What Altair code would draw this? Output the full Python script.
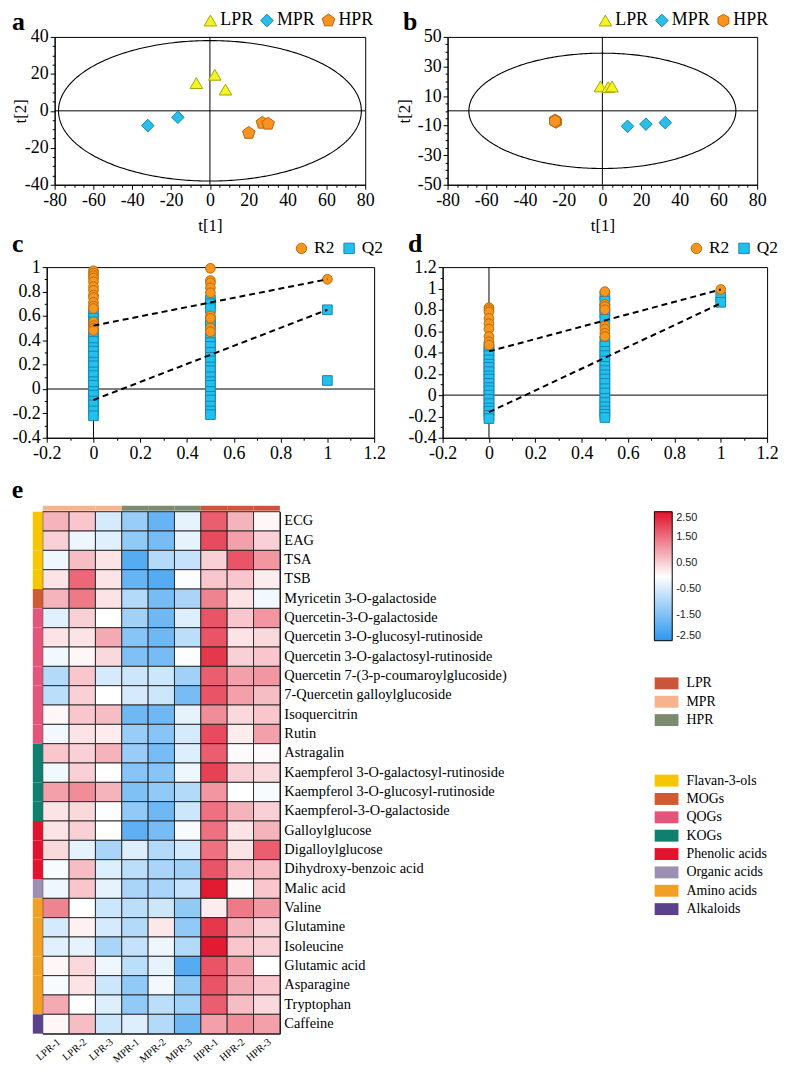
import altair as alt
import numpy as np
import pandas as pd

SERIF = "Liberation Serif"
SANS = "Liberation Sans"

# ---------------- PCA score plots (a, b) ----------------
GROUPS = ["LPR", "MPR", "HPR"]
PCA_FILL = ["#f3f329", "#29bfe9", "#f7931e"]
PCA_STROKE = ["#a6a600", "#1583ae", "#b9650c"]
X_TICKS_PCA = list(range(-80, 81, 5))
X_MAJOR_PCA = "datum.value % 20 == 0"

A_LPR_X = [-7.0, 2.5, 8.0]
A_LPR_Y = [15.0, 19.5, 11.5]
A_MPR_X = [-32.0, -16.5]
A_MPR_Y = [-8.0, -3.5]
A_HPR_X = [20.0, 27.0, 30.0]
A_HPR_Y = [-12.0, -6.5, -7.0]
A_ELLIPSE_RADII = [78, 38]
A_Y_DOMAIN = [-40, 40]
A_Y_TICKS = list(range(-40, 41, 5))
A_Y_MAJOR = "datum.value % 20 == 0"

B_LPR_X = [-1.0, 3.0, 5.0]
B_LPR_Y = [16.5, 16.0, 16.5]
B_MPR_X = [13.0, 22.5, 32.5]
B_MPR_Y = [-10.5, -9.0, -8.0]
B_HPR_X = [-24.5, -24.0, -24.5]
B_HPR_Y = [-6.5, -7.5, -7.0]
B_ELLIPSE_RADII = [69, 39]
B_Y_DOMAIN = [-50, 50]
B_Y_TICKS = list(range(-50, 51, 5))
B_Y_MAJOR = "(datum.value + 50) % 20 == 0"

PENTAGON = "M0,-1.05L1,-0.32L0.62,0.85L-0.62,0.85L-1,-0.32Z"
HEXAGON = "M0,-1L0.87,-0.5L0.87,0.5L0,1L-0.87,0.5L-0.87,-0.5Z"

# ---------------- permutation tests (c, d) ----------------
PERM_SERIES = ["R2", "Q2"]
PERM_FILL = ["#f7961f", "#22c0ec"]
PERM_STROKE = ["#b86a08", "#1688b0"]
PERM_X = [0.0, 0.5, 1.0]
PERM_X_DOMAIN = [-0.2, 1.2]
PERM_X_TICKS = [-0.2, -0.1, 0, 0.1, 0.2, 0.3, 0.4, 0.5, 0.6, 0.7, 0.8, 0.9, 1, 1.1, 1.2]
PERM_MAJOR = "round(datum.value * 10) % 2 == 0"

C_R2_AT_0 = [0.97, 0.95, 0.93, 0.91, 0.88, 0.84, 0.81, 0.77, 0.75, 0.71, 0.68, 0.66, 0.55, 0.52, 0.50, 0.48]
C_R2_AT_05 = [0.99, 0.89, 0.87, 0.83, 0.79, 0.60, 0.58, 0.50, 0.47]
C_R2_AT_1 = [0.90]
C_Q2_AT_0 = [0.62, 0.58, 0.55, 0.45, 0.42, 0.39, 0.34, 0.31, 0.27, 0.22, 0.19, 0.14, 0.11, 0.06, 0.03,
             -0.02, -0.05, -0.10, -0.13, -0.18, -0.22]
C_Q2_AT_05 = [0.73, 0.70, 0.66, 0.55, 0.52, 0.43, 0.38, 0.35, 0.30, 0.26, 0.23, 0.18, 0.15, 0.10, 0.06,
              0.03, -0.02, -0.06, -0.09, -0.14, -0.18, -0.21]
C_Q2_AT_1 = [0.65, 0.07]
C_R2_LINE = [0.52, 0.90]
C_Q2_LINE = [-0.09, 0.65]
C_Y_DOMAIN = [-0.4, 1.0]
C_Y_TICKS = [-0.4, -0.3, -0.2, -0.1, 0, 0.1, 0.2, 0.3, 0.4, 0.5, 0.6, 0.7, 0.8, 0.9, 1]

D_R2_AT_0 = [0.82, 0.80, 0.78, 0.72, 0.67, 0.62, 0.55, 0.50, 0.47]
D_R2_AT_05 = [0.97, 0.85, 0.83, 0.80, 0.65, 0.62, 0.58, 0.55]
D_R2_AT_1 = [0.99]
D_Q2_AT_0 = [0.45, 0.41, 0.37, 0.33, 0.29, 0.26, 0.22, 0.18, 0.15, 0.11, 0.07, 0.04, 0.0, -0.04, -0.08,
             -0.12, -0.15, -0.19, -0.22]
D_Q2_AT_05 = [0.93, 0.88, 0.81, 0.77, 0.71, 0.51, 0.46, 0.41, 0.37, 0.32, 0.27, 0.23, 0.19, 0.15, 0.11,
              0.06, 0.02, -0.03, -0.07, -0.11, -0.15, -0.18, -0.21]
D_Q2_AT_1 = [0.92, 0.87]
D_R2_LINE = [0.41, 0.99]
D_Q2_LINE = [-0.16, 0.86]
D_Y_DOMAIN = [-0.4, 1.2]
D_Y_TICKS = [-0.4, -0.3, -0.2, -0.1, 0, 0.1, 0.2, 0.3, 0.4, 0.5, 0.6, 0.7, 0.8, 0.9, 1, 1.1, 1.2]

# ---------------- heatmap (e) ----------------
SAMPLES = ["LPR-1", "LPR-2", "LPR-3", "MPR-1", "MPR-2", "MPR-3", "HPR-1", "HPR-2", "HPR-3"]
SAMPLE_GROUP = ["LPR", "LPR", "LPR", "MPR", "MPR", "MPR", "HPR", "HPR", "HPR"]
BAR_GROUP_COLORS = ["#f6b48e", "#7c8a70", "#c9553a"]
LEGEND_GROUP_COLORS = ["#c9553a", "#f6b48e", "#7c8a70"]

COMPOUNDS = [
    "ECG", "EAG", "TSA", "TSB", "Myricetin 3-O-galactoside", "Quercetin-3-O-galactoside",
    "Quercetin 3-O-glucosyl-rutinoside", "Quercetin 3-O-galactosyl-rutinoside",
    "Quercetin 7-(3-p-coumaroylglucoside)", "7-Quercetin galloylglucoside", "Isoquercitrin", "Rutin",
    "Astragalin", "Kaempferol 3-O-galactosyl-rutinoside", "Kaempferol 3-O-glucosyl-rutinoside",
    "Kaempferol-3-O-galactoside", "Galloylglucose", "Digalloylglucose", "Dihydroxy-benzoic acid",
    "Malic acid", "Valine", "Glutamine", "Isoleucine", "Glutamic acid", "Asparagine", "Tryptophan",
    "Caffeine",
]
HEAT_VALUES = [
    [0.8, 0.6, -0.5, -1.2, -1.8, -0.3, 1.7, 0.8, 0.1],
    [0.5, -0.2, -0.35, -1.3, -1.6, -0.3, 1.9, 1.0, 0.5],
    [-0.2, 0.7, 0.3, -2.0, -0.9, -0.7, 0.5, 1.8, 1.1],
    [0.3, 1.6, 0.3, -1.8, -2.0, -0.05, 0.6, 0.6, 0.2],
    [0.8, 1.4, 0.3, -0.9, -1.6, -1.0, 1.3, 0.3, -0.15],
    [-0.35, 0.5, 0.0, -1.1, -1.7, -0.4, 1.8, 0.6, 1.1],
    [0.3, 0.3, 0.9, -1.4, -1.7, -0.8, 1.8, 0.3, 0.4],
    [-0.15, 0.1, 0.4, -1.5, -1.6, -0.05, 2.1, 0.5, 0.6],
    [-0.9, 0.6, -0.5, -0.6, -0.6, -1.1, 1.7, 1.0, 1.1],
    [-0.8, 0.5, 0.0, -0.5, -0.6, -1.6, 1.8, 1.0, 0.7],
    [0.1, 0.6, 0.7, -1.7, -1.7, -0.3, 1.2, 0.4, 0.6],
    [-0.15, 0.3, 0.2, -1.2, -1.4, -0.5, 1.9, 0.2, 1.0],
    [0.6, 0.5, 0.8, -1.2, -1.6, -0.4, 1.7, 0.05, 0.05],
    [-0.15, 0.5, 0.0, -1.4, -1.4, -0.2, 2.0, 0.5, 0.4],
    [1.0, 1.2, 0.8, -1.5, -1.3, -0.9, 1.1, 0.0, -0.1],
    [0.3, 0.4, -0.05, -1.3, -1.7, -0.6, 1.5, 0.8, 0.5],
    [0.3, 0.5, 0.0, -1.9, -1.6, -0.1, 1.5, 0.3, 0.8],
    [0.4, -0.3, -1.0, -0.4, -0.9, -0.5, 1.5, 0.3, 1.7],
    [-0.1, 0.7, -0.4, -0.8, -1.0, -1.1, 1.8, 0.7, 0.7],
    [-0.2, 0.6, -0.3, -1.0, -1.0, -0.7, 2.4, 0.05, 0.6],
    [1.3, 0.0, -0.6, -0.8, -0.6, -1.3, 0.2, 1.4, 1.1],
    [-0.5, 0.15, -0.5, -0.9, 0.25, -1.3, 2.1, 0.8, 0.5],
    [-0.35, -0.3, -1.0, -0.7, -0.2, -0.9, 2.4, 0.6, 0.5],
    [0.1, 0.4, -0.2, -0.8, -0.3, -2.0, 1.8, 1.0, 0.0],
    [-0.1, 0.3, -0.6, -1.3, -0.15, -1.3, 1.8, 0.9, 0.6],
    [0.9, 0.0, -0.4, -1.3, -0.8, -1.1, 1.7, 0.7, 0.4],
    [0.1, 0.7, -0.6, -0.4, -0.9, -1.7, 1.0, 1.2, 1.0],
]
CAT_NAMES = ["Flavan-3-ols", "MOGs", "QOGs", "KOGs", "Phenolic acids", "Organic acids", "Amino acids", "Alkaloids"]
CAT_COUNTS = [4, 1, 7, 4, 3, 1, 6, 1]
CAT_COLORS = ["#f7c600", "#cf5b35", "#e4557c", "#0f7f70", "#e2132c", "#9b90b2", "#f2a024", "#5b418c"]
HEAT_DOMAIN = [-2.5, 0, 2.5]
HEAT_RANGE = ["#2b97ef", "#ffffff", "#e1122b"]
HEAT_LEGEND_VALUES = [2.5, 1.5, 0.5, -0.5, -1.5, -2.5]

RECT_SYMBOL = "M-2,-1H2V1H-2Z"


def num_expr(fmt, major="true"):
    return (f"({major}) ? (datum.value < 0 ? '-' + format(-datum.value, '{fmt}') : "
            f"format(datum.value, '{fmt}')) : ''")


def letter_title(letter, dx=0, offset=0):
    return alt.TitleParams(letter, anchor="start", frame="bounds", baseline="top", offset=offset,
                           dx=dx, fontSize=26, font=SERIF, fontWeight="bold", color="black")


def axis(orient, values, major, fmt, title=None, **kw):
    return alt.Axis(orient=orient, values=values, tickCount=200, labelExpr=num_expr(fmt, major),
                    title=title, grid=False,
                    tickSize={"condition": {"test": major, "value": 4.5}, "value": 2.5},
                    tickColor="black", domainColor="black", labelFont=SERIF, labelOverlap=False,
                    labelFontSize=18, labelColor="black", titleFont=SERIF, titleFontSize=17,
                    titleFontWeight="normal", titleColor="black", labelFlush=False, **kw)


def pca_panel(letter, data, radii, y_domain, y_ticks, y_major, shapes, width, height, ytitle_x,
              letter_dx, legend_x):
    df = pd.DataFrame([{"x": x, "y": y, "group": g}
                       for g, xs, ys in data for x, y in zip(xs, ys)])
    t = np.linspace(0, 2 * np.pi, 361)
    ell = pd.DataFrame({"x": radii[0] * np.cos(t), "y": radii[1] * np.sin(t), "o": np.arange(361)})
    one = pd.DataFrame({"z": [0]})
    xsc = alt.Scale(domain=[-80, 80], nice=False, zero=False)
    ysc = alt.Scale(domain=y_domain, nice=False, zero=False)

    xa = axis("bottom", X_TICKS_PCA, X_MAJOR_PCA, "d", title="t[1]", labelPadding=2, titlePadding=9)
    ya = axis("left", y_ticks, y_major, "d", title="t[2]", labelPadding=2, titleX=ytitle_x,
              titleY=height / 2, titleAngle=270, titleBaseline="middle", titleAlign="center")

    leg = alt.Legend(orient="none", direction="horizontal", legendX=legend_x, legendY=-25.5, title=None,
                     labelFont=SERIF, labelFontSize=18, labelColor="black", symbolSize=160,
                     symbolStrokeWidth=1, labelOffset=1, columnPadding=4, padding=0)

    ell_layer = alt.Chart(ell).mark_line(color="black", strokeWidth=1.1).encode(
        x=alt.X("x:Q", scale=xsc, axis=xa), y=alt.Y("y:Q", scale=ysc, axis=ya), order="o:Q")
    vrule = alt.Chart(one).mark_rule(color="black", strokeWidth=1).encode(
        x=alt.XDatum(0, type="quantitative", scale=xsc))
    hrule = alt.Chart(one).mark_rule(color="black", strokeWidth=1).encode(
        y=alt.YDatum(0, type="quantitative", scale=ysc))
    pts = alt.Chart(df).mark_point(filled=True, size=160, strokeWidth=1, opacity=1).encode(
        x=alt.X("x:Q", scale=xsc),
        y=alt.Y("y:Q", scale=ysc),
        shape=alt.Shape("group:N", scale=alt.Scale(domain=GROUPS, range=shapes), legend=leg),
        fill=alt.Fill("group:N", scale=alt.Scale(domain=GROUPS, range=PCA_FILL), legend=leg),
        stroke=alt.Stroke("group:N", scale=alt.Scale(domain=GROUPS, range=PCA_STROKE), legend=leg),
    )
    return alt.layer(ell_layer, vrule, hrule, pts).properties(
        width=width, height=height, title=letter_title(letter, dx=letter_dx, offset=-24))


def perm_panel(letter, r2_at, q2_at, r2_line, q2_line, y_domain, y_ticks, width, height, legend_x):
    rows = []
    for xv, vals in zip(PERM_X, q2_at):
        rows += [{"x": xv, "y": v, "series": "Q2"} for v in vals]
    for xv, vals in zip(PERM_X, r2_at):
        rows += [{"x": xv, "y": v, "series": "R2"} for v in vals]
    df = pd.DataFrame(rows)
    lines = pd.DataFrame({"x": [0.0, 1.0, 0.0, 1.0], "y": r2_line + q2_line,
                          "series": ["R2", "R2", "Q2", "Q2"]})
    one = pd.DataFrame({"z": [0]})
    xsc = alt.Scale(domain=PERM_X_DOMAIN, nice=False, zero=False)
    ysc = alt.Scale(domain=y_domain, nice=False, zero=False)
    xa = axis("bottom", PERM_X_TICKS, PERM_MAJOR, "~g", labelPadding=2)
    ya = axis("left", y_ticks, PERM_MAJOR, "~g", labelPadding=2)
    leg = alt.Legend(orient="none", direction="horizontal", legendX=legend_x, legendY=-28, title=None,
                     labelFont=SERIF, labelFontSize=17.5, labelColor="black", symbolSize=110,
                     symbolStrokeWidth=1, labelOffset=4, columnPadding=6, padding=0)
    vrule = alt.Chart(one).mark_rule(color="black", strokeWidth=1).encode(
        x=alt.XDatum(0, type="quantitative", scale=xsc, axis=xa))
    hrule = alt.Chart(one).mark_rule(color="black", strokeWidth=1).encode(
        y=alt.YDatum(0, type="quantitative", scale=ysc, axis=ya))
    pts = alt.Chart(df).mark_point(filled=True, size=95, strokeWidth=1, opacity=1).encode(
        x=alt.X("x:Q", scale=xsc),
        y=alt.Y("y:Q", scale=ysc),
        shape=alt.Shape("series:N", scale=alt.Scale(domain=PERM_SERIES, range=["circle", "square"]), legend=leg),
        fill=alt.Fill("series:N", scale=alt.Scale(domain=PERM_SERIES, range=PERM_FILL), legend=leg),
        stroke=alt.Stroke("series:N", scale=alt.Scale(domain=PERM_SERIES, range=PERM_STROKE), legend=leg),
    )
    ln = alt.Chart(lines).mark_line(color="black", strokeWidth=2, strokeDash=[6, 4]).encode(
        x=alt.X("x:Q", scale=xsc), y=alt.Y("y:Q", scale=ysc), detail="series:N")
    return alt.layer(vrule, hrule, pts, ln).properties(
        width=width, height=height, title=letter_title(letter, offset=-17.8))


panel_a = pca_panel("a", [("LPR", A_LPR_X, A_LPR_Y), ("MPR", A_MPR_X, A_MPR_Y), ("HPR", A_HPR_X, A_HPR_Y)],
                    A_ELLIPSE_RADII, A_Y_DOMAIN, A_Y_TICKS, A_Y_MAJOR, ["triangle-up", "diamond", PENTAGON],
                    313, 149, -34, 0, 148)
panel_b = pca_panel("b", [("LPR", B_LPR_X, B_LPR_Y), ("MPR", B_MPR_X, B_MPR_Y), ("HPR", B_HPR_X, B_HPR_Y)],
                    B_ELLIPSE_RADII, B_Y_DOMAIN, B_Y_TICKS, B_Y_MAJOR, ["triangle-up", "diamond", HEXAGON],
                    312, 149, -43, 7, 150)
panel_c = perm_panel("c", [C_R2_AT_0, C_R2_AT_05, C_R2_AT_1], [C_Q2_AT_0, C_Q2_AT_05, C_Q2_AT_1],
                     C_R2_LINE, C_Q2_LINE, C_Y_DOMAIN, C_Y_TICKS, 330, 172, 248)
panel_d = perm_panel("d", [D_R2_AT_0, D_R2_AT_05, D_R2_AT_1], [D_Q2_AT_0, D_Q2_AT_05, D_Q2_AT_1],
                     D_R2_LINE, D_Q2_LINE, D_Y_DOMAIN, D_Y_TICKS, 327, 172, 247)

# ---------------- heatmap ----------------
cells = pd.DataFrame([{"compound": c, "sample": s, "value": HEAT_VALUES[i][j]}
                      for i, c in enumerate(COMPOUNDS) for j, s in enumerate(SAMPLES)])
cat_col = [name for name, n in zip(CAT_NAMES, CAT_COUNTS) for _ in range(n)]
cats = pd.DataFrame({"compound": COMPOUNDS, "category": cat_col})
grp = pd.DataFrame({"sample": SAMPLES, "group": SAMPLE_GROUP})

xh = alt.X("sample:N", sort=SAMPLES, scale=alt.Scale(paddingInner=0, paddingOuter=0),
           axis=alt.Axis(orient="bottom", title=None, ticks=False, domain=False, labelAngle=-40,
                         labelFont=SERIF, labelFontSize=10.5, labelColor="black", labelPadding=3))
yh = alt.Y("compound:N", sort=COMPOUNDS, scale=alt.Scale(paddingInner=0, paddingOuter=0),
           axis=alt.Axis(orient="right", title=None, ticks=False, domain=False, labelFont=SERIF,
                         labelFontSize=14.5, labelColor="black", labelPadding=4, labelLimit=400))

sym_leg = dict(orient="none", title=None, symbolType=RECT_SYMBOL, symbolSize=144, symbolStrokeWidth=0,
               symbolOpacity=1, labelFont=SERIF, labelFontSize=14, labelColor="black", labelOffset=13,
               rowPadding=4.5, padding=0)

heat_cells = alt.Chart(cells).mark_rect(stroke="#222222", strokeWidth=0.9).encode(
    x=xh, y=yh,
    color=alt.Color("value:Q",
                    scale=alt.Scale(domain=HEAT_DOMAIN, range=HEAT_RANGE, interpolate="rgb"),
                    legend=alt.Legend(orient="none", legendX=616.4, legendY=0, title=None,
                                      direction="vertical", gradientLength=130, gradientThickness=18,
                                      gradientStrokeColor="black", gradientStrokeWidth=1,
                                      values=HEAT_LEGEND_VALUES, labelExpr=num_expr(".2f"),
                                      labelFont=SANS, labelFontSize=11, labelColor="#222222",
                                      labelOffset=4, labelOverlap=False, padding=0)),
)
side_bar = alt.Chart(cats).mark_rect().encode(
    y=alt.Y("compound:N", sort=COMPOUNDS),
    x=alt.value(-10), x2=alt.value(0),
    color=alt.Color("category:N", scale=alt.Scale(domain=CAT_NAMES, range=CAT_COLORS),
                    legend=alt.Legend(legendX=621.7, legendY=264, **sym_leg)),
)
top_bar = alt.Chart(grp).mark_rect().encode(
    x=alt.X("sample:N", sort=SAMPLES),
    y=alt.value(-6), y2=alt.value(-1),
    color=alt.Color("group:N", scale=alt.Scale(domain=GROUPS, range=BAR_GROUP_COLORS), legend=None),
)
group_legend = alt.Chart(grp).mark_rect(opacity=0).encode(
    x=alt.X("sample:N", sort=SAMPLES),
    y=alt.value(-6), y2=alt.value(-1),
    color=alt.Color("group:N", scale=alt.Scale(domain=GROUPS, range=LEGEND_GROUP_COLORS),
                    legend=alt.Legend(legendX=621.7, legendY=166, **sym_leg)),
)
heatmap = alt.layer(heat_cells, side_bar, top_bar, group_legend).resolve_scale(color="independent").properties(
    width=239, height=526, title=letter_title("e", dx=-21.3, offset=3.2))

IND = dict(shape="independent", fill="independent", stroke="independent", color="independent")


def spacer():
    return alt.Chart(pd.DataFrame({"z": [0]})).mark_rect(opacity=0).properties(
        width=1, height=1, view=alt.ViewBackground(stroke="transparent"))


row1 = alt.hconcat(spacer(), alt.hconcat(panel_a, panel_b, spacing=20).resolve_scale(**IND),
                   spacing=0).resolve_scale(**IND)
row2 = alt.hconcat(spacer(), alt.hconcat(panel_c, panel_d, spacing=21).resolve_scale(**IND),
                   spacing=0).resolve_scale(**IND)
row3 = alt.hconcat(spacer(), heatmap, spacing=0).resolve_scale(**IND)

top = alt.concat(row1, row2, columns=1, align="none", spacing=-4).resolve_scale(**IND)
chart = alt.concat(top, row3, columns=1, align="none", spacing=13.5).resolve_scale(**IND).properties(
    padding={"top": -3, "left": 0, "right": 0, "bottom": 0}).configure_view(
    stroke="black", strokeWidth=1).configure_axis(
    grid=False, labelFont=SERIF, titleFont=SERIF, labelColor="black", titleColor="black").configure_legend(
    labelFont=SERIF, labelColor="black")

chart.save("out.html", embed_options={"renderer": "svg", "actions": False})
